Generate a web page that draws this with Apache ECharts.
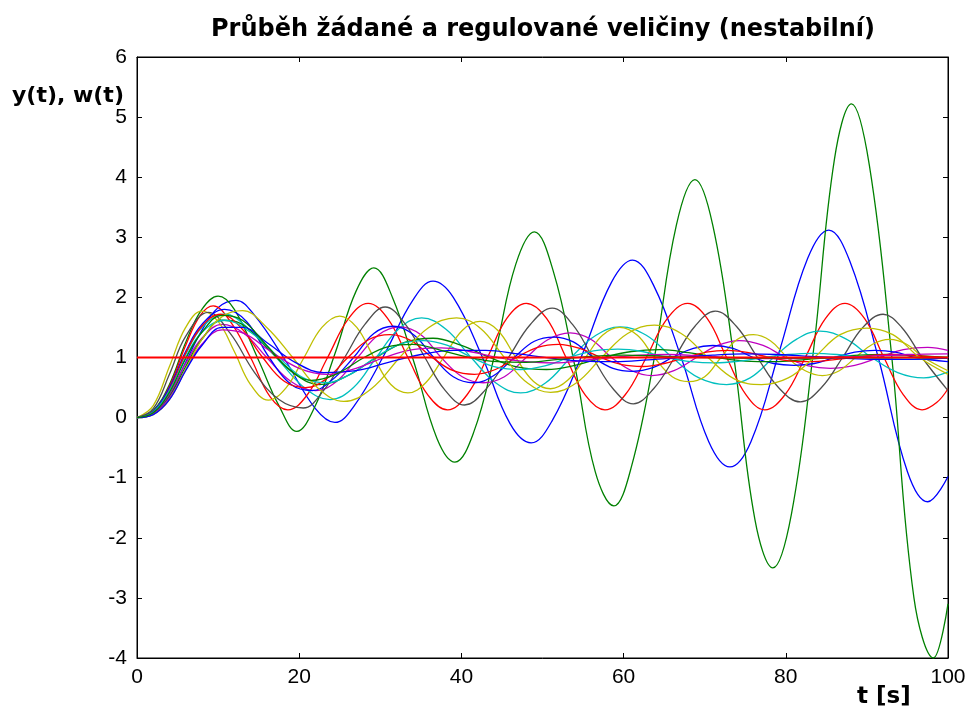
<!DOCTYPE html>
<html>
<head>
<meta charset="utf-8">
<script src="https://cdn.jsdelivr.net/npm/echarts@6/dist/echarts.min.js"></script>
<style>html,body{margin:0;padding:0;background:#fff}#c{width:971px;height:713px}</style>
</head>
<body>
<div id="c"></div>
<script>
// ---- data (t [s], value) ----
const titleText = 'Průběh žádané a regulované veličiny (nestabilní)';
const yLabelText = 'y(t), w(t)';
const xLabelText = 't [s]';
const xTicks = [0, 20, 40, 60, 80, 100];
const yTicks = [-4, -3, -2, -1, 0, 1, 2, 3, 4, 5, 6];

const blue1 = [[0,0],[2,0.07],[4,0.38],[6,0.92],[8,1.45],[10,1.83],[12.2,1.95],[14.5,1.7],[18.3,0.95],[22,0.15],[24.4,-0.08],[26.8,0.2],[30.5,1.05],[34,1.95],[36.5,2.27],[39,2.0],[42.6,1.0],[46,-0.1],[48.6,-0.42],[51.2,-0.05],[54.9,1.05],[58.5,2.25],[61.1,2.62],[63.7,2.2],[67.1,1.0],[70.5,-0.4],[73.1,-0.82],[75.7,-0.4],[79.2,1.1],[82.7,2.65],[85.3,3.12],[87.9,2.6],[91.4,1.0],[95,-0.9],[97.5,-1.4],[100,-0.98]];
const green1 = [[0,0],[2,0.12],[4,0.55],[6,1.25],[8,1.8],[10,2.02],[12,1.8],[15,0.95],[17.5,0.2],[19.7,-0.23],[22,0.2],[24.5,1.1],[27,2.1],[29.2,2.49],[31.5,2.0],[34.2,0.9],[37,-0.35],[39.2,-0.74],[41.5,-0.25],[44.2,1.1],[46.7,2.55],[49,3.09],[51.3,2.45],[54,0.85],[56.5,-0.9],[58.8,-1.47],[61,-0.8],[63.8,1.0],[66.5,3.2],[68.8,3.96],[71,3.2],[73.6,1.0],[76.2,-1.7],[78.4,-2.5],[80.7,-1.6],[83.4,1.1],[86,4.3],[88.1,5.22],[90.3,4.2],[93,1.1],[95.8,-3.0],[98.2,-4.0],[100,-3.1]];
const red1 = [[0,0],[2,0.1],[4,0.52],[6,1.2],[7.8,1.7],[9.4,1.86],[11.5,1.6],[14,1.0],[16.4,0.35],[18.6,0.13],[21,0.38],[23.5,1.0],[26.1,1.65],[28.5,1.9],[30.9,1.65],[33.4,1.0],[35.9,0.37],[38.3,0.13],[40.7,0.38],[43.2,1.0],[45.6,1.65],[48,1.9],[50.5,1.65],[52.9,1.0],[55.3,0.37],[57.7,0.13],[60.2,0.38],[62.8,1.0],[65.4,1.65],[67.9,1.9],[70.3,1.65],[72.7,1.0],[75.1,0.38],[77.4,0.13],[79.9,0.38],[82.4,1.0],[84.9,1.65],[87.3,1.9],[89.7,1.65],[92.1,1.0],[94.5,0.38],[96.8,0.13],[98.6,0.25],[100,0.48]];
const cyan1 = [[0,0],[2,0.1],[4,0.48],[6,1.05],[8,1.5],[10.8,1.72],[14,1.45],[17.5,0.95],[20.8,0.48],[23.8,0.3],[26.7,0.5],[29.5,1.0],[32.3,1.48],[35.1,1.66],[38.1,1.47],[41.2,1.0],[44.3,0.57],[47.3,0.41],[50.4,0.58],[53.5,1.0],[56.6,1.37],[59.6,1.51],[62.8,1.37],[66,1.0],[69.3,0.66],[72.7,0.55],[75.6,0.66],[78.5,1.0],[81.4,1.31],[84.2,1.44],[87.4,1.31],[90.6,1.0],[93.8,0.75],[97,0.66],[100,0.76]];
const magenta1 = [[0,0],[2,0.07],[4,0.38],[6,0.9],[8,1.32],[10.5,1.55],[13.2,1.4],[16,1.0],[19,0.6],[22,0.45],[24.6,0.6],[27.2,1.0],[29.8,1.38],[32.4,1.51],[35,1.38],[37.5,1.0],[40.1,0.68],[42.7,0.58],[45.3,0.68],[48,1.0],[50.7,1.3],[53.4,1.41],[56,1.3],[58.5,1.0],[61,0.78],[63.5,0.7],[66.2,0.78],[69,1.0],[71.6,1.2],[74.3,1.28],[77.2,1.2],[80,1.0],[82.8,0.86],[85.5,0.82],[88.5,0.87],[91.5,1.0],[94.5,1.13],[97.5,1.17],[100,1.12]];
const yellow1 = [[0,0],[2,0.2],[4,0.85],[6,1.5],[8,1.77],[10,1.6],[12,1.1],[14,0.55],[16.2,0.29],[18.4,0.5],[20.6,1.0],[22.8,1.5],[25,1.69],[27.1,1.5],[29.2,1.0],[31.3,0.55],[33.4,0.41],[35.6,0.58],[37.8,1.0],[40.1,1.45],[42.3,1.6],[44.5,1.45],[46.7,1.0],[48.9,0.6],[51,0.48],[53.1,0.62],[55.3,1.0],[57.4,1.37],[59.5,1.5],[61.7,1.37],[63.8,1.0],[66,0.68],[68,0.6],[70,0.68],[72,1.0],[74,1.3],[76,1.38],[78.1,1.28],[80.2,1.0],[82.4,0.78],[84.5,0.7],[86.6,0.78],[88.6,1.0],[90.7,1.22],[92.8,1.3],[94.9,1.22],[97,1.0],[100,0.78]];
const gray1 = [[0,0],[2,0.15],[4,0.72],[6,1.35],[8.8,1.75],[11.5,1.4],[14.5,0.75],[17.5,0.3],[20.5,0.16],[23,0.45],[25.6,1.0],[28.1,1.55],[30.6,1.84],[33.1,1.55],[35.5,1.0],[37.9,0.47],[40.4,0.21],[43,0.47],[45.8,1.0],[48.5,1.55],[51.2,1.82],[53.7,1.55],[56.2,1.0],[58.7,0.48],[61.2,0.23],[63.7,0.48],[66.3,1.0],[68.8,1.52],[71.3,1.77],[73.9,1.52],[76.5,1.0],[79.1,0.5],[81.8,0.26],[84.4,0.5],[87,1.0],[89.5,1.5],[92,1.72],[94.3,1.5],[96.8,1.0],[100,0.45]];
const blue2 = [[0,0],[2,0.1],[4,0.5],[6,1.1],[8,1.55],[10.8,1.8],[13.5,1.6],[16.3,1.0],[19,0.55],[21.6,0.45],[24,0.62],[26.7,1.0],[29.2,1.4],[31.6,1.52],[34.1,1.38],[36.6,1.0],[39,0.68],[41.5,0.58],[44,0.7],[46.5,1.0],[49,1.27],[51.4,1.34],[53.8,1.26],[56.3,1.0],[58.7,0.82],[61.1,0.77],[63.6,0.83],[66,1.0],[68.6,1.15],[71,1.2],[73.5,1.15],[76,1.0],[78.5,0.9],[81,0.87],[83.5,0.9],[86,1.0],[88.5,1.09],[91,1.12],[93.5,1.09],[96,1.0],[100,0.93]];
const green2 = [[0,0],[2,0.06],[4,0.35],[6,0.85],[8,1.3],[10.5,1.62],[13,1.55],[16.5,1.1],[19.5,0.72],[22.5,0.55],[26,0.7],[29.5,1.0],[33,1.25],[36.5,1.32],[40,1.2],[43.5,1.0],[47,0.84],[50.5,0.8],[54,0.87],[57.5,1.0],[61,1.1],[64.5,1.13],[68,1.08],[71.5,1.0],[75,0.94],[78.5,0.93],[82,0.96],[85.5,1.0],[89,1.04],[92.5,1.05],[96,1.03],[100,1.0]];
const red2 = [[0,0],[2,0.09],[4,0.46],[6,1.07],[8,1.52],[10.3,1.72],[12.8,1.5],[15.5,1.0],[18.2,0.6],[20.8,0.5],[23.4,0.65],[26,1.0],[28.6,1.3],[31.2,1.38],[33.8,1.28],[36.4,1.0],[39,0.78],[41.6,0.72],[44.2,0.8],[46.8,1.0],[49.4,1.17],[52,1.22],[54.6,1.15],[57.2,1.0],[59.8,0.88],[62.4,0.85],[65,0.9],[67.6,1.0],[70.2,1.09],[72.8,1.12],[75.4,1.08],[78,1.0],[80.6,0.94],[83.2,0.93],[85.8,0.96],[88.4,1.0],[91,1.04],[93.6,1.05],[96.2,1.03],[100,0.99]];
const cyan2 = [[0,0],[2,0.09],[4,0.45],[6,1.0],[8,1.42],[10.8,1.62],[14,1.42],[17.5,1.0],[20.5,0.66],[23.3,0.58],[26.3,0.72],[29.4,1.0],[32.4,1.22],[35.3,1.28],[38.3,1.2],[41.3,1.0],[44.3,0.84],[47.3,0.8],[50.3,0.86],[53.3,1.0],[56.3,1.11],[59.3,1.14],[62.3,1.1],[65.3,1.0],[68.3,0.93],[71.3,0.91],[74.3,0.94],[77.3,1.0],[80.3,1.05],[83.3,1.07],[86.3,1.05],[89.3,1.0],[95,0.97],[100,1.0]];
const magenta2 = [[0,0],[2,0.06],[4,0.33],[6,0.8],[8,1.22],[10.5,1.46],[13.2,1.4],[16.5,1.1],[20,0.82],[23.5,0.72],[27,0.82],[30.5,1.0],[34,1.13],[37.5,1.16],[41,1.1],[44.5,1.0],[48,0.93],[51.5,0.91],[55,0.95],[58.5,1.0],[62,1.04],[65.5,1.05],[70,1.02],[75,0.99],[80,0.98],[85,1.0],[90,1.02],[95,1.05],[100,1.06]];
const yellow2 = [[0,0],[2,0.05],[4,0.3],[6,0.8],[8,1.3],[10.5,1.68],[13,1.78],[16,1.5],[19.2,1.0],[22.4,0.48],[25.5,0.27],[28.9,0.48],[32.4,1.0],[35.9,1.49],[39.4,1.66],[42.4,1.48],[45.3,1.0],[48.2,0.57],[51,0.42],[54.2,0.58],[57.3,1.0],[60.5,1.4],[63.8,1.54],[67.1,1.4],[70.4,1.0],[73.7,0.64],[77,0.55],[80.3,0.66],[83.5,1.0],[86.7,1.38],[90,1.49],[93.2,1.38],[96.5,1.0],[100,0.72]];
const blue3 = [[0,0],[2,0.05],[4,0.3],[6,0.78],[8,1.2],[10.5,1.5],[13,1.5],[16,1.25],[19.5,0.92],[23,0.75],[27,0.78],[31,0.92],[35,1.05],[39,1.12],[43,1.12],[47,1.06],[51,0.99],[55,0.94],[59,0.93],[63,0.96],[67,1.0],[71,1.04],[75,1.06],[79,1.05],[83,1.02],[87,0.99],[91,0.97],[95,0.97],[100,0.99]];
const green3 = [[0,0],[2,0.08],[4,0.42],[6,0.98],[8,1.42],[10.5,1.7],[13,1.62],[16,1.2],[18.8,0.8],[21.5,0.62],[24.5,0.72],[28,1.0],[31,1.18],[34,1.22],[37.5,1.12],[41,1.0],[44.5,0.93],[48,0.92],[52,0.97],[56,1.02],[60,1.04],[65,1.02],[70,1.0],[80,0.99],[90,1.0],[100,1.0]];
const setpoint = [[0,1],[100,1]];

const seriesDefs = [
  ['y1', blue1, '#0000ff'], ['y2', green1, '#008000'], ['y3', red1, '#ff0000'],
  ['y4', cyan1, '#00bfbf'], ['y5', magenta1, '#bf00bf'], ['y6', yellow1, '#bfbf00'],
  ['y7', gray1, '#4d4d4d'], ['y8', blue2, '#0000ff'], ['y9', green2, '#008000'],
  ['y10', red2, '#ff0000'], ['y11', cyan2, '#00bfbf'], ['y12', magenta2, '#bf00bf'],
  ['y13', yellow2, '#bfbf00'], ['y14', blue3, '#0000ff'], ['y15', green3, '#008000']
];

const chart = echarts.init(document.getElementById('c'), null, {renderer: 'canvas'});
const tickFont = {fontFamily: 'Liberation Sans, Arial, sans-serif', fontSize: 21, color: '#000'};
const series = seriesDefs.map(([name, data, color]) => ({
  name, type: 'line', data, smooth: 0.4, symbol: 'none', xAxisIndex: 0, yAxisIndex: 0,
  lineStyle: {color, width: 1.3}, itemStyle: {color}, emphasis: {disabled: true}, animation: false
}));
series.push({
  name: 'w', type: 'line', data: setpoint, symbol: 'none', xAxisIndex: 0, yAxisIndex: 0,
  lineStyle: {color: '#ff0000', width: 2}, emphasis: {disabled: true}, animation: false
});

chart.setOption({
  animation: false,
  backgroundColor: '#fff',
  title: {
    text: titleText, left: 538, top: 13, textAlign: 'center',
    textStyle: {fontFamily: 'DejaVu Sans, sans-serif', fontWeight: 'bold', fontSize: 24, color: '#000'}
  },
  grid: {left: 137, right: 23, top: 57, bottom: 55, show: true, borderColor: '#000', borderWidth: 1, backgroundColor: '#fff'},
  xAxis: [
    {type: 'value', min: xTicks[0], max: xTicks[xTicks.length - 1], interval: xTicks[1] - xTicks[0], position: 'bottom',
     axisLine: {show: true, onZero: false, lineStyle: {color: '#000'}},
     axisTick: {show: true, inside: true, length: 5, lineStyle: {color: '#000'}},
     axisLabel: Object.assign({margin: 9}, tickFont), splitLine: {show: false}},
    {type: 'value', min: xTicks[0], max: xTicks[xTicks.length - 1], interval: xTicks[1] - xTicks[0], position: 'top',
     axisLine: {show: true, onZero: false, lineStyle: {color: '#000'}},
     axisTick: {show: true, inside: true, length: 5, lineStyle: {color: '#000'}},
     axisLabel: {show: false}, splitLine: {show: false}}
  ],
  yAxis: [
    {type: 'value', min: yTicks[0], max: yTicks[yTicks.length - 1], interval: 1, position: 'left',
     axisLine: {show: true, onZero: false, lineStyle: {color: '#000'}},
     axisTick: {show: true, inside: true, length: 5, lineStyle: {color: '#000'}},
     axisLabel: Object.assign({margin: 10}, tickFont), splitLine: {show: false}},
    {type: 'value', min: yTicks[0], max: yTicks[yTicks.length - 1], interval: 1, position: 'right',
     axisLine: {show: true, onZero: false, lineStyle: {color: '#000'}},
     axisTick: {show: true, inside: true, length: 5, lineStyle: {color: '#000'}},
     axisLabel: {show: false}, splitLine: {show: false}}
  ],
  graphic: [
    {type: 'text', left: 12, top: 85, style: {text: yLabelText, fontFamily: 'DejaVu Sans, sans-serif', fontWeight: 'bold', fontSize: 22, fill: '#000'}},
    {type: 'text', left: 857, top: 686, style: {text: xLabelText, fontFamily: 'DejaVu Sans, sans-serif', fontWeight: 'bold', fontSize: 23, fill: '#000'}}
  ],
  series
});
</script>
</body>
</html>
